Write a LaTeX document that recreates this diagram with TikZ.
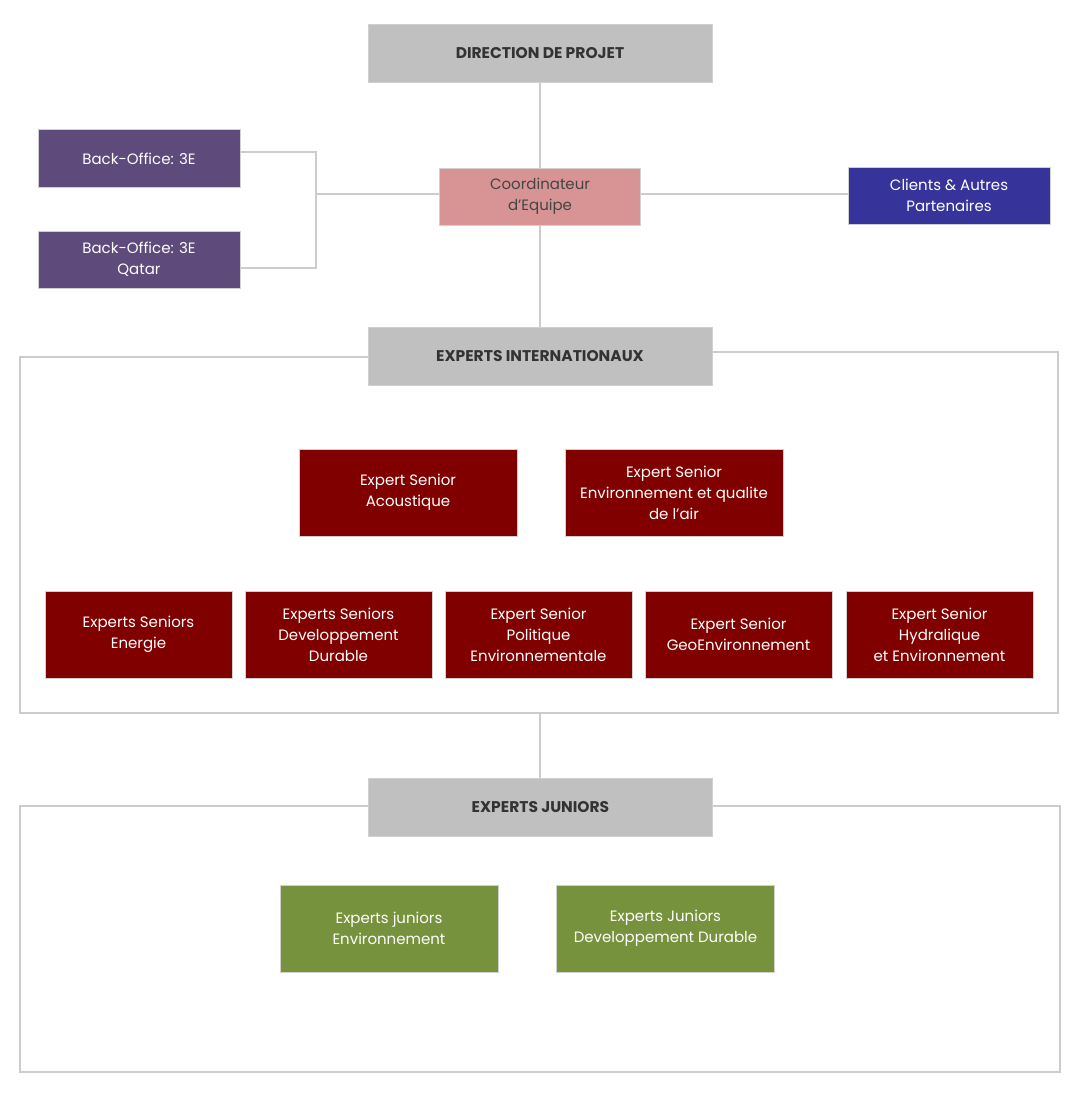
\documentclass[tikz,border=0pt]{standalone}
\usepackage{fontspec}
\setmainfont{Poppins}
\definecolor{hdrgray}{HTML}{C0C0C0}
\definecolor{hdrtext}{HTML}{333333}
\definecolor{cotext}{HTML}{444444}
\definecolor{purp}{HTML}{5E4A7B}
\definecolor{pinkc}{HTML}{D89494}
\definecolor{bluec}{HTML}{36349A}
\definecolor{redc}{HTML}{800000}
\definecolor{greenc}{HTML}{77923C}
\definecolor{linec}{HTML}{CCCCCC}
\definecolor{boxline}{HTML}{D0D0D0}
\begin{document}
\begin{tikzpicture}[x=1pt,y=-1pt,
  box/.style={draw=boxline, line width=1pt, inner sep=0pt, align=center,
    font=\fontsize{15}{21}\selectfont, text=white},
  hdr/.style={box, fill=hdrgray, text=hdrtext, minimum width=344pt, minimum height=58pt,
    font=\fontsize{15.5}{21}\selectfont\bfseries},
  purpbox/.style={box, fill=purp, minimum width=202pt, minimum height=57pt},
  redbox/.style={box, fill=redc, minimum height=87pt},
  greenbox/.style={box, fill=greenc, minimum width=218pt, minimum height=87pt},
  conn/.style={draw=linec, line width=1.3pt},
  frame/.style={draw=linec, line width=1.3pt}
]
\fill[white] (0,0) rectangle (1078,1097);
\useasboundingbox (0,0) rectangle (1078,1097);

% headers
\node[hdr] (dp) at (540,53.5) {DIRECTION DE PROJET};
\node[hdr] (ei) at (540,356) {EXPERTS INTERNATIONAUX};
\node[hdr] (ej) at (540.5,807) {EXPERTS JUNIORS};

% top level boxes
\node[purpbox] (bo1) at (139,158.5) {Back-Office: 3E};
\node[purpbox] (bo2) at (139,259.5) {Back-Office: 3E\\Qatar};
\node[box, fill=pinkc, text=cotext, minimum width=201pt, minimum height=57pt] (co) at (540,196.5) {Coordinateur\\d'Equipe};
\node[box, fill=bluec, minimum width=202pt, minimum height=57pt] (cl) at (949,195.5) {Clients \& Autres\\Partenaires};

% connectors top
\coordinate (hy) at (0,194);
\draw[conn] (dp.south) -- (co.north);
\draw[conn] (co.south) -- (ei.north);
\draw[conn] (co.east |- hy) -- (cl.west |- hy);
\coordinate (jn) at (316,194);
\draw[conn] (co.west |- jn) -- (jn);
\draw[conn] (bo1.east |- 0,152) -| (316,268) -- (bo2.east |- 0,268);

% frame 1
\coordinate (f1tl) at (20,357);
\coordinate (f1bl) at (20,713);
\coordinate (f1br) at (1058,713);
\coordinate (f1tr) at (1058,352);
\coordinate (f1mid) at (540,713);
\draw[frame] (ei.west |- f1tl) -- (f1tl) -- (f1bl) -- (f1br) -- (f1tr) -- (ei.east |- f1tr);

% senior experts
\node[redbox, minimum width=218pt] (r1) at (408,492.5) {Expert Senior\\Acoustique};
\node[redbox, minimum width=218pt] (r2) at (674,492.5) {Expert Senior\\Environnement et qualite\\de l'air};
\node[redbox, minimum width=187pt] (s1) at (138.5,634.5) {Experts Seniors\\Energie};
\node[redbox, minimum width=187pt] (s2) at (338.5,634.5) {Experts Seniors\\Developpement\\Durable};
\node[redbox, minimum width=187pt] (s3) at (538.5,634.5) {Expert Senior\\Politique\\Environnementale};
\node[redbox, minimum width=187pt] (s4) at (738.5,634.5) {Expert Senior\\GeoEnvironnement};
\node[redbox, minimum width=187pt] (s5) at (939.5,634.5) {Expert Senior\\Hydralique\\et Environnement};

% connector to juniors
\draw[conn] (f1mid) -- (f1mid |- ej.north);

% frame 2
\coordinate (f2tl) at (20,806);
\coordinate (f2bl) at (20,1072);
\coordinate (f2br) at (1060,1072);
\coordinate (f2tr) at (1060,806);
\draw[frame] (ej.west |- f2tl) -- (f2tl) -- (f2bl) -- (f2br) -- (f2tr) -- (ej.east |- f2tr);

% juniors
\node[greenbox] (g1) at (389,928.5) {Experts juniors\\Environnement};
\node[greenbox] (g2) at (665.5,928.5) {Experts Juniors\\Developpement Durable};
\end{tikzpicture}
\end{document}
